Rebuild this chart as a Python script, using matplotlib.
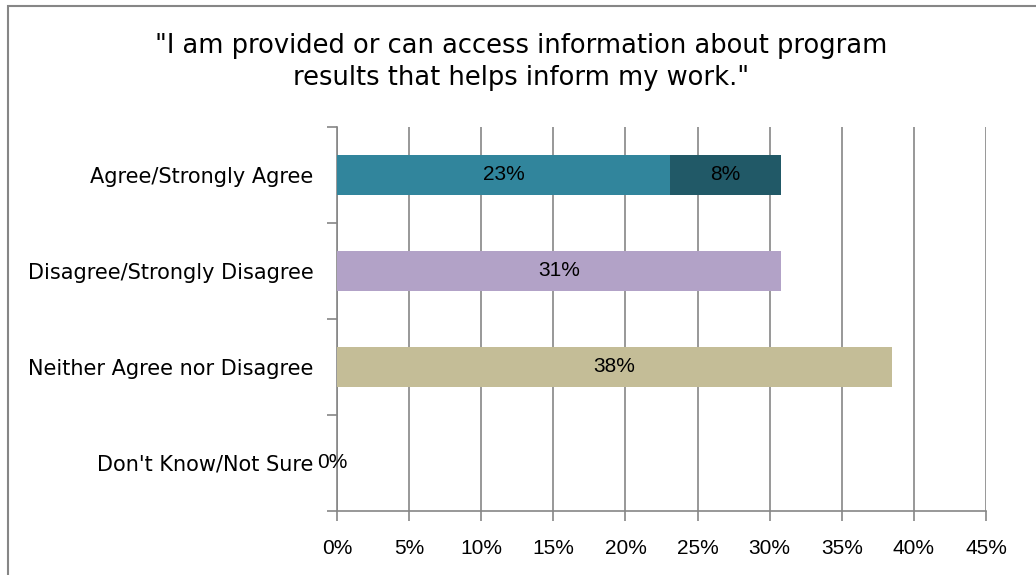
import matplotlib
matplotlib.use("Agg")
import matplotlib.pyplot as plt
from matplotlib.patches import Rectangle

categories = ["Agree/Strongly Agree", "Disagree/Strongly Disagree",
              "Neither Agree nor Disagree", "Don't Know/Not Sure"]
# percent values (13 respondents)
base_values = [23.08, 30.77, 38.46, 0.0]
strong_values = [7.69, 0.0, 0.0, 0.0]
base_labels = ["23%", "31%", "38%", "0%"]
strong_labels = ["8%", "", "", ""]
base_colors = ["#31859C", "#B2A2C7", "#C4BD97", "#C4BD97"]
strong_color = "#215967"
xticks = [0, 5, 10, 15, 20, 25, 30, 35, 40, 45]
xtick_labels = [f"{t}%" for t in xticks]
title = '"I am provided or can access information about program\nresults that helps inform my work."'

W, H = 1036, 575
fig = plt.figure(figsize=(W / 100, H / 100), dpi=100)
fig.patch.set_facecolor("white")

# outer chart border (extends beyond image right/bottom)
fig.add_artist(Rectangle((8 / W, -0.05), 1.2, (1 - 6 / H) + 0.05, transform=fig.transFigure,
                         fill=False, edgecolor="#868686", linewidth=1.5))

ax = fig.add_axes([337 / W, 1 - 511 / H, (986 - 337) / W, (511 - 127) / H])

ypos = list(range(len(categories)))
ax.barh(ypos, base_values, height=0.41, color=base_colors, zorder=3)
ax.barh(ypos, strong_values, left=base_values, height=0.41, color=strong_color, zorder=3)

num_font = ["Liberation Sans", "DejaVu Sans"]
for y, v, lab in zip(ypos, base_values, base_labels):
    ax.text(v / 2 - (0.3 if v == 0 else 0), y, lab, ha="center", va="center",
            fontsize=15, family=num_font, zorder=4)
for y, b, v, lab in zip(ypos, base_values, strong_values, strong_labels):
    if lab:
        ax.text(b + v / 2, y, lab, ha="center", va="center", fontsize=15, family=num_font, zorder=4)

ax.set_xlim(0, 45)
ax.set_ylim(3.5, -0.5)
ax.set_xticks(xticks)
ax.set_xticklabels(xtick_labels, family=num_font, fontsize=15)
ax.set_yticks(ypos)
ax.set_yticklabels(categories, fontsize=15, family=["DejaVu Sans"])
ax.set_yticks([-0.5, 0.5, 1.5, 2.5, 3.5], minor=True)
ax.tick_params(axis="y", which="major", length=0, pad=17)
ax.tick_params(axis="y", which="minor", length=7, color="#868686", width=1.2)
ax.tick_params(axis="x", which="major", length=7, color="#868686", width=1.2, pad=13)

ax.grid(axis="x", color="#868686", linewidth=1.2, zorder=0)
for s in ["top", "right"]:
    ax.spines[s].set_visible(False)
for s in ["left", "bottom"]:
    ax.spines[s].set_color("#868686")
    ax.spines[s].set_linewidth(1.2)

fig.text(521 / W, 1 - 62 / H, title, ha="center", va="center", fontsize=18.5,
         family=["DejaVu Sans"], linespacing=1.3)

fig.savefig("out.png", dpi=100)
